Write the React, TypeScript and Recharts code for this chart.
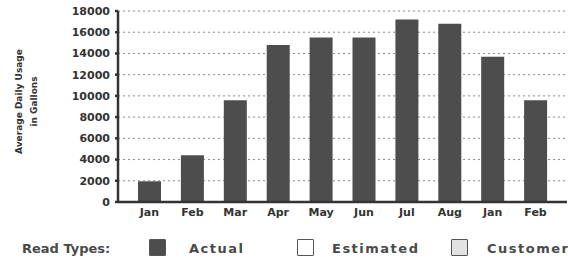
import React from 'react';
import { BarChart, Bar, XAxis, YAxis, CartesianGrid } from 'recharts';

const months = ['Jan', 'Feb', 'Mar', 'Apr', 'May', 'Jun', 'Jul', 'Aug', 'Jan', 'Feb'];
const actualUsage = [1950, 4400, 9600, 14800, 15500, 15500, 17200, 16800, 13700, 9600];
const yTicks = [0, 2000, 4000, 6000, 8000, 10000, 12000, 14000, 16000, 18000];
const readTypes = ['Actual', 'Estimated', 'Customer'];
const readTypeFills = ['#4d4d4d', '#ffffff', '#e2e2e2'];

const data = months.map((m, i) => ({ month: m, actual: actualUsage[i] }));

const font = '"DejaVu Sans", Verdana, sans-serif';

const YLabel = (props: any) => {
  const { viewBox } = props;
  const cy = viewBox.y + viewBox.height / 2 - 5;
  return (
    <g fontFamily={font} fontSize={9} fontWeight="bold" fill="#333">
      <text x={22} y={cy} transform={`rotate(-90, 22, ${cy})`} textAnchor="middle">Average Daily Usage</text>
      <text x={37} y={cy} transform={`rotate(-90, 37, ${cy})`} textAnchor="middle">in Gallons</text>
    </g>
  );
};

// legend squares and labels, placed under the plot
const ReadTypesLegend = () => (
  <div style={{ position: 'absolute', left: 0, top: 0, width: 568, height: 261, fontFamily: font, fontWeight: 'bold', color: '#4a4a4a', fontSize: 13, pointerEvents: 'none' }}>
    <span style={{ position: 'absolute', left: 22, top: 241, whiteSpace: 'nowrap' }}>Read Types:</span>
    {readTypes.map((name, i) => {
      const left = [149, 297, 451][i];
      return (
        <React.Fragment key={name}>
          <span style={{ position: 'absolute', left, top: 239, width: 15, height: 15, background: readTypeFills[i], border: '1.5px solid #555', borderRadius: 1 }} />
          <span style={{ position: 'absolute', left: left + [40, 35, 36][i], top: 241, letterSpacing: 1.5, whiteSpace: 'nowrap' }}>{name}</span>
        </React.Fragment>
      );
    })}
  </div>
);

export default function App() {
  return (
    <div style={{ position: 'absolute', left: 0, top: 0, width: 568, height: 261, background: '#fff', overflow: 'hidden' }}>
      <BarChart width={568} height={261} data={data} margin={{ top: 11, right: 1, left: 0, bottom: 39 }} barCategoryGap={0}>
        <CartesianGrid vertical={false} stroke="#8a8a8a" strokeDasharray="2 3" />
        <XAxis
          dataKey="month"
          padding={{ left: 10, right: 10 }}
          tickLine={false}
          tickSize={0}
          tickMargin={6}
          height={20}
          stroke="#333"
          strokeWidth={2.5}
          tick={{ fill: '#333', fontSize: 11, fontWeight: 'bold', fontFamily: font }}
        />
        <YAxis
          width={118}
          domain={[0, 18000]}
          ticks={yTicks}
          interval={0}
          tickSize={3}
          tickMargin={5}
          stroke="#333"
          strokeWidth={2.5}
          tick={{ fill: '#333', fontSize: 11, fontWeight: 'bold', fontFamily: font }}
          label={<YLabel />}
        />
        <Bar dataKey="actual" fill="#4d4d4d" barSize={23} isAnimationActive={false} />
      </BarChart>
      <ReadTypesLegend />
    </div>
  );
}
